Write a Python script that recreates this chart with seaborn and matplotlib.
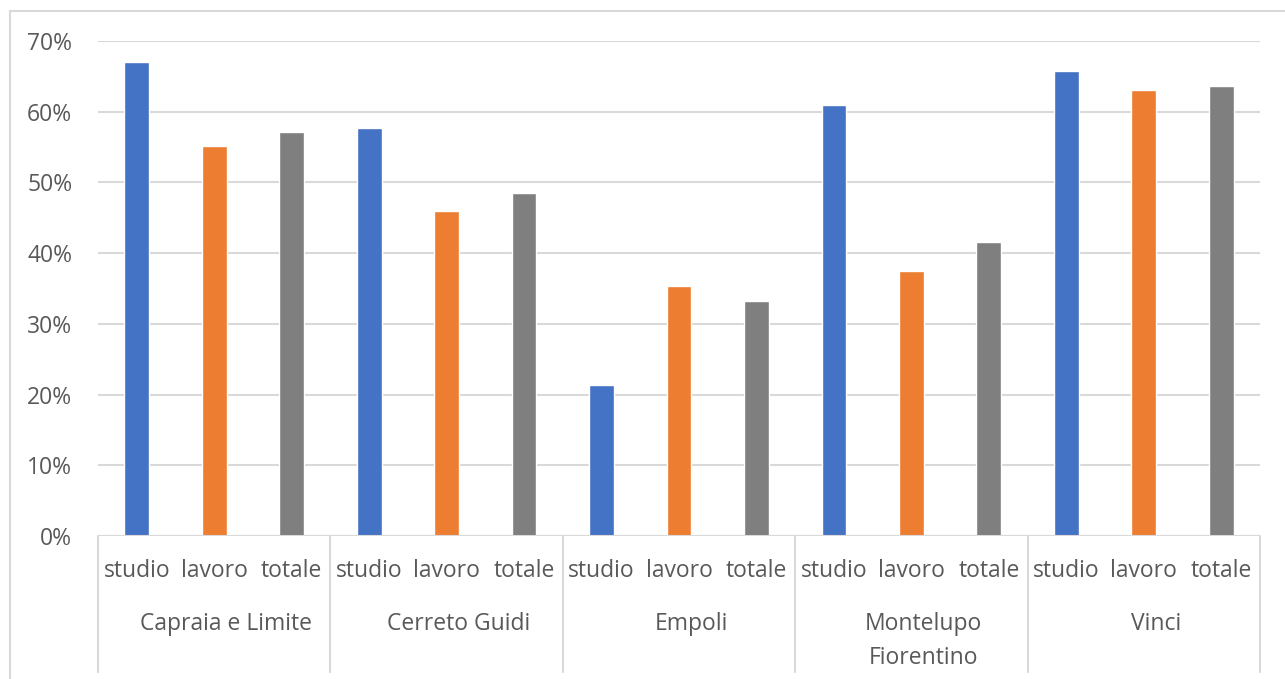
import matplotlib
matplotlib.use("Agg")
import matplotlib.pyplot as plt
import matplotlib.transforms as mtransforms
from matplotlib.lines import Line2D
from matplotlib.ticker import PercentFormatter
import seaborn as sns
import pandas as pd

# Data: share per municipality and travel purpose
comuni = ["Capraia e Limite", "Cerreto Guidi", "Empoli", "Montelupo\nFiorentino", "Vinci"]
tipi = ["studio", "lavoro", "totale"]
studio = [67.0, 57.7, 21.4, 61.0, 65.8]
lavoro = [55.2, 46.0, 35.4, 37.5, 63.1]
totale = [57.1, 48.5, 33.2, 41.6, 63.6]
y_ticks = [0, 10, 20, 30, 40, 50, 60, 70]

colori = {"studio": "#4472C4", "lavoro": "#ED7D31", "totale": "#7F7F7F"}
testo = "#595959"
griglia = "#D9D9D9"
fs = 16.5

rows = []
for i, c in enumerate(comuni):
    for t, serie in zip(tipi, (studio, lavoro, totale)):
        rows.append({"slot": f"{i}-{t}", "comune": c, "tipo": t, "valore": serie[i]})
df = pd.DataFrame(rows)

sns.set_theme(style="white")
plt.rcParams["font.family"] = ["Open Sans", "DejaVu Sans"]

fig = plt.figure(figsize=(12.85, 6.79), dpi=100)
W, H = 1285, 679
left, right, top, bottom = 98, 1260, 41, 536
ax = fig.add_axes([left / W, 1 - bottom / H, (right - left) / W, (bottom - top) / H])

sns.barplot(data=df, x="slot", y="valore", hue="tipo", palette=colori,
            dodge=False, width=0.32, ax=ax, legend=False, saturation=1)

n = len(df)
ax.set_xlim(-0.5, n - 0.5)
ax.set_ylim(0, 70)
ax.set_yticks(y_ticks)
ax.yaxis.set_major_formatter(PercentFormatter(decimals=0))
ax.tick_params(axis="y", length=0, pad=18.5, labelsize=fs, labelcolor=testo)
ax.set_xticks([])
ax.set_xlabel("")
ax.set_ylabel("")
for s in ax.spines.values():
    s.set_visible(False)
ax.yaxis.grid(True, color=griglia, linewidth=1.5)
ax.set_axisbelow(True)
ax.axhline(0, color=griglia, linewidth=1.5, zorder=3)

px = (bottom - top)
trans = mtransforms.blended_transform_factory(ax.transData, ax.transAxes)

# Category labels (inner level)
for k, r in df.iterrows():
    ax.text(k, -(571 - bottom) / px, r["tipo"], transform=trans, ha="center",
            va="center", fontsize=fs, color=testo)

# Municipality labels (outer level)
shift = mtransforms.ScaledTranslation(12 / 100, 0, fig.dpi_scale_trans)
for i, c in enumerate(comuni):
    ax.text(3 * i + 1, -(612 - bottom) / px, c, transform=trans + shift, ha="center",
            va="top", fontsize=fs, color=testo, linespacing=1.55)

# Group separators below the axis
for b in range(0, n + 1, 3):
    ax.add_line(Line2D([b - 0.5, b - 0.5], [0, -(672 - bottom) / px], transform=trans,
                       color=griglia, linewidth=1.5, clip_on=False))

# Chart area border (top and left edges)
fig.add_artist(Line2D([10 / W, 1], [1 - 11 / H, 1 - 11 / H], transform=fig.transFigure,
                      color=griglia, linewidth=1.5))
fig.add_artist(Line2D([10 / W, 10 / W], [0, 1 - 11 / H], transform=fig.transFigure,
                      color=griglia, linewidth=1.5))

fig.savefig("out.png", dpi=100, facecolor="white")
